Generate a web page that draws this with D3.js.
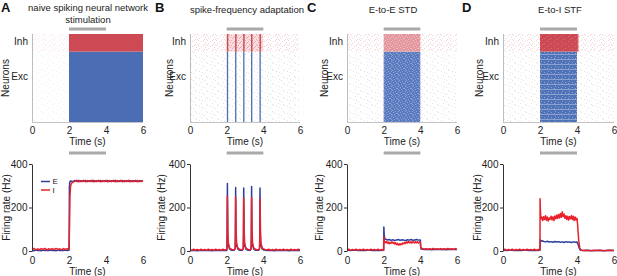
<!DOCTYPE html>
<html>
<head>
<meta charset="utf-8">
<script src="https://cdn.jsdelivr.net/npm/d3@7"></script>
<style>
    body { margin: 0; background: #fff; }
    svg { font-family: "Liberation Sans", Arial, sans-serif; }
    .tickText { font-size: 10px; fill: #222; }
    .axisLabel { font-size: 10px; fill: #222; }
    .title { font-size: 9.5px; fill: #222; }
    .letter { font-size: 13px; font-weight: bold; fill: #111; }
    .legend { font-size: 8px; fill: #222; }
</style>
</head>
<body>
<svg id="fig" width="617" height="276"></svg>
<script>
// ---------- data ----------
const panelNames = ["A", "B", "C", "D"];
const panelTitles = [["naive spiking neural network", "stimulation"], ["spike-frequency adaptation"], ["E-to-E STD"], ["E-to-I STF"]];
const timeTicks = [0, 2, 4, 6];
const rateTicks = [0, 200, 400];
const stimWindow = [2, 4];
const populations = [{name: "Exc", from: 0, to: 800}, {name: "Inh", from: 800, to: 1000}];
// how visible the spontaneous background spiking is in each raster
const spontLevel = [0.45, 0.9, 0.85, 0.85];

// evoked raster activity: time windows where a population fires densely
const rasterEvents = [
    {panel: "A", pop: "Exc", t0: 2.0, t1: 6.0, density: 1},
    {panel: "A", pop: "Inh", t0: 2.0, t1: 6.0, density: 1},
    {panel: "B", pop: "Inh", t0: 2.0, t1: 4.0, density: 0.2},
    {panel: "B", pop: "Exc", t0: 2.01, t1: 2.08, density: 1},
    {panel: "B", pop: "Exc", t0: 2.46, t1: 2.53, density: 1},
    {panel: "B", pop: "Exc", t0: 2.90, t1: 2.97, density: 1},
    {panel: "B", pop: "Exc", t0: 3.33, t1: 3.40, density: 1},
    {panel: "B", pop: "Exc", t0: 3.79, t1: 3.86, density: 1},
    {panel: "B", pop: "Inh", t0: 2.01, t1: 2.09, density: 1},
    {panel: "B", pop: "Inh", t0: 2.46, t1: 2.54, density: 1},
    {panel: "B", pop: "Inh", t0: 2.90, t1: 2.98, density: 1},
    {panel: "B", pop: "Inh", t0: 3.33, t1: 3.41, density: 1},
    {panel: "B", pop: "Inh", t0: 3.79, t1: 3.87, density: 1},
    {panel: "C", pop: "Exc", t0: 2.0, t1: 4.0, density: 0.7},
    {panel: "C", pop: "Inh", t0: 2.0, t1: 4.0, density: 0.45},
    {panel: "D", pop: "Exc", t0: 2.0, t1: 4.0, density: 0.8, hetero: true},
    {panel: "D", pop: "Inh", t0: 2.0, t1: 4.05, density: 0.95},
    {panel: "D", pop: "Inh", t0: 4.05, t1: 4.1, density: 0.45}
];

// population firing rates, [time (s), rate (Hz)]
const rateE_A = [[0,3],[0.1,1],[0.2,4],[0.3,2],[0.4,3],[0.5,1],[0.6,4],[0.7,2],[0.8,3],[0.9,2],[1.0,4],[1.1,2],[1.2,3],[1.3,1],[1.4,4],[1.5,2],[1.6,3],[1.7,2],[1.8,4],[1.9,2],[2.0,3],[2.01,40],[2.02,290],[2.04,316],[2.08,322],[2.2,319],[2.3,324],[2.4,320],[2.5,325],[2.6,319],[2.7,323],[2.8,320],[2.9,324],[3.0,319],[3.1,323],[3.2,320],[3.3,325],[3.4,319],[3.5,323],[3.6,320],[3.7,324],[3.8,319],[3.9,323],[4.0,320],[4.1,324],[4.2,319],[4.3,323],[4.4,320],[4.5,325],[4.6,319],[4.7,323],[4.8,320],[4.9,324],[5.0,319],[5.1,323],[5.2,320],[5.3,324],[5.4,319],[5.5,323],[5.6,320],[5.7,324],[5.8,319],[5.9,323],[6.0,321]];
const rateI_A = [[0,8],[0.1,12],[0.2,5],[0.3,10],[0.4,6],[0.5,11],[0.6,7],[0.7,12],[0.8,5],[0.9,10],[1.0,7],[1.1,11],[1.2,6],[1.3,12],[1.4,7],[1.5,10],[1.6,5],[1.7,11],[1.8,7],[1.9,10],[2.0,8],[2.03,120],[2.05,250],[2.08,295],[2.12,310],[2.2,316],[2.3,320],[2.4,325],[2.5,318],[2.6,324],[2.7,319],[2.8,325],[2.9,318],[3.0,324],[3.1,319],[3.2,325],[3.3,318],[3.4,324],[3.5,319],[3.6,325],[3.7,318],[3.8,324],[3.9,319],[4.0,325],[4.1,318],[4.2,324],[4.3,319],[4.4,325],[4.5,318],[4.6,324],[4.7,319],[4.8,325],[4.9,318],[5.0,324],[5.1,319],[5.2,325],[5.3,318],[5.4,324],[5.5,319],[5.6,325],[5.7,318],[5.8,324],[5.9,319],[6.0,322]];

const rateE_B = [[0,2],[0.2,3],[0.4,1],[0.6,3],[0.8,2],[1.0,3],[1.2,1],[1.4,3],[1.6,2],[1.8,3],[2.0,2],[2.02,15],[2.04,310],[2.055,70],[2.08,22],[2.11,28],[2.15,10],[2.25,4],[2.40,3],[2.47,15],[2.49,292],[2.505,70],[2.53,22],[2.56,27],[2.6,10],[2.7,4],[2.85,3],[2.91,15],[2.93,290],[2.945,70],[2.97,22],[3.0,27],[3.04,10],[3.14,4],[3.28,3],[3.34,15],[3.36,297],[3.375,70],[3.40,22],[3.43,27],[3.47,10],[3.57,4],[3.74,3],[3.80,15],[3.82,290],[3.835,70],[3.86,22],[3.89,27],[3.93,10],[4.03,4],[4.2,2],[4.4,3],[4.6,1],[4.8,3],[5.0,2],[5.2,3],[5.4,1],[5.6,3],[5.8,2],[6.0,2]];
const rateI_B = [[0,6],[0.1,3],[0.2,8],[0.3,4],[0.4,7],[0.5,3],[0.6,8],[0.7,4],[0.8,7],[0.9,3],[1.0,8],[1.1,4],[1.2,7],[1.3,3],[1.4,8],[1.5,4],[1.6,7],[1.7,3],[1.8,8],[1.9,4],[2.01,8],[2.03,60],[2.04,252],[2.05,210],[2.065,90],[2.09,40],[2.13,20],[2.2,10],[2.3,7],[2.4,6],[2.46,8],[2.48,60],[2.49,248],[2.50,205],[2.515,90],[2.54,40],[2.58,20],[2.65,10],[2.75,7],[2.85,6],[2.90,8],[2.92,60],[2.93,245],[2.94,205],[2.955,90],[2.98,40],[3.02,20],[3.09,10],[3.19,7],[3.28,6],[3.33,8],[3.35,60],[3.36,246],[3.37,205],[3.385,90],[3.41,40],[3.45,20],[3.52,10],[3.62,7],[3.74,6],[3.79,8],[3.81,60],[3.82,240],[3.83,200],[3.845,90],[3.87,40],[3.91,20],[3.98,10],[4.08,7],[4.2,5],[4.3,8],[4.4,3],[4.5,7],[4.6,4],[4.7,8],[4.8,3],[4.9,7],[5.0,4],[5.1,8],[5.2,3],[5.3,7],[5.4,4],[5.5,8],[5.6,3],[5.7,7],[5.8,4],[5.9,8],[6.0,5]];

const rateE_C = [[0,3],[0.2,2],[0.4,4],[0.6,2],[0.8,3],[1.0,2],[1.2,4],[1.4,2],[1.6,3],[1.8,2],[2.0,3],[2.01,110],[2.03,72],[2.06,58],[2.1,54],[2.2,51],[2.3,53],[2.4,49],[2.5,52],[2.6,48],[2.7,51],[2.8,53],[2.9,49],[3.0,52],[3.1,50],[3.2,48],[3.3,52],[3.4,50],[3.5,53],[3.6,49],[3.7,51],[3.8,53],[3.9,50],[4.0,51],[4.02,20],[4.05,9],[4.2,7],[4.4,8],[4.6,6],[4.8,8],[5.0,7],[5.2,8],[5.4,6],[5.6,8],[5.8,7],[6.0,7]];
const rateI_C = [[0,5],[0.1,8],[0.2,3],[0.3,7],[0.4,4],[0.5,8],[0.6,3],[0.7,7],[0.8,5],[0.9,8],[1.0,4],[1.1,7],[1.2,3],[1.3,8],[1.4,5],[1.5,7],[1.6,4],[1.7,8],[1.8,3],[1.9,7],[2.0,5],[2.01,65],[2.03,48],[2.06,42],[2.1,38],[2.15,44],[2.2,36],[2.25,41],[2.3,33],[2.35,40],[2.4,35],[2.45,42],[2.5,36],[2.55,40],[2.6,32],[2.65,38],[2.7,30],[2.75,35],[2.8,27],[2.85,33],[2.9,28],[2.95,34],[3.0,30],[3.05,37],[3.1,33],[3.15,40],[3.2,35],[3.25,42],[3.3,37],[3.35,43],[3.4,38],[3.45,42],[3.5,36],[3.55,43],[3.6,38],[3.65,42],[3.7,37],[3.75,43],[3.8,38],[3.85,42],[3.9,37],[3.95,41],[4.0,40],[4.02,18],[4.05,10],[4.1,12],[4.2,8],[4.3,11],[4.4,7],[4.5,10],[4.6,8],[4.7,12],[4.8,7],[4.9,10],[5.0,8],[5.1,11],[5.2,7],[5.3,10],[5.4,8],[5.5,12],[5.6,7],[5.7,10],[5.8,8],[5.9,11],[6.0,8]];

const rateE_D = [[0,3],[0.2,2],[0.4,4],[0.6,2],[0.8,3],[1.0,2],[1.2,4],[1.4,2],[1.6,3],[1.8,2],[2.0,3],[2.01,52],[2.04,48],[2.08,45],[2.12,47],[2.2,44],[2.3,42],[2.4,45],[2.5,41],[2.6,43],[2.7,40],[2.8,44],[2.9,41],[3.0,43],[3.1,40],[3.2,42],[3.3,39],[3.4,43],[3.5,40],[3.6,42],[3.7,39],[3.8,42],[3.9,40],[4.0,41],[4.05,33],[4.1,18],[4.15,7],[4.2,3],[4.4,2],[4.6,3],[4.8,1],[5.0,2],[5.2,3],[5.4,1],[5.6,2],[5.8,3],[6.0,2]];
const rateI_D = [[0,5],[0.1,8],[0.2,3],[0.3,7],[0.4,4],[0.5,8],[0.6,3],[0.7,7],[0.8,5],[0.9,8],[1.0,4],[1.1,7],[1.2,3],[1.3,8],[1.4,5],[1.5,7],[1.6,4],[1.7,8],[1.8,3],[1.9,7],[2.0,5],[2.005,240],[2.02,190],[2.04,160],[2.07,148],[2.1,155],[2.15,140],[2.2,158],[2.25,145],[2.3,162],[2.35,141],[2.4,156],[2.45,138],[2.5,152],[2.55,146],[2.6,160],[2.65,143],[2.7,157],[2.75,140],[2.8,161],[2.85,148],[2.9,165],[2.95,150],[3.0,168],[3.05,152],[3.1,172],[3.15,155],[3.2,180],[3.25,158],[3.3,170],[3.35,150],[3.4,162],[3.45,145],[3.5,160],[3.55,142],[3.6,158],[3.65,148],[3.7,163],[3.75,145],[3.8,160],[3.85,140],[3.9,156],[3.95,143],[4.0,150],[4.03,125],[4.06,85],[4.1,42],[4.15,15],[4.2,5],[4.3,2],[4.5,3],[4.7,1],[4.9,3],[5.1,2],[5.3,3],[5.5,1],[5.7,3],[5.9,2],[6.0,2]];

const ratesE = [rateE_A, rateE_B, rateE_C, rateE_D];
const ratesI = [rateI_A, rateI_B, rateI_C, rateI_D];

// ---------- layout ----------
const colE = "#2c3f9c", colI = "#e8212b";
const rastBlue = "#4a6db4", rastRed = "#cd4a54";
const panelX = [[32, 143], [190, 300], [347, 457], [503, 614]];
const letterX = [1, 155, 307, 462];
const titleX = [88, 247, 393, 560];
const neuronsLabelX = [5, 169, 324, 479];
const rateLabelX = [6, 161, 319, 477];
const rasterTop = 34, rasterBottom = 122;
const rateTop = 164, rateBottom = 251;

const svg = d3.select("#fig");
const defs = svg.append("defs");

// textures for spike rasters
function pattern(id, w, h, base, dots, dotColor, dotOpacity){
    let p = defs.append("pattern")
        .attr("id", id)
        .attr("patternUnits", "userSpaceOnUse")
        .attr("width", w)
        .attr("height", h);
    if (base) p.append("rect").attr("width", w).attr("height", h).attr("fill", base);
    dots.forEach(d => p.append("rect")
        .attr("x", d[0]).attr("y", d[1])
        .attr("width", d[2] || 1).attr("height", d[3] || 1)
        .attr("fill", dotColor)
        .attr("opacity", dotOpacity));
}
pattern("spontExc", 11, 7, null, [[1,1],[6,3],[9,0],[3,5],[8,6],[4,2]], "#b8b8b8", 0.45);
pattern("spontInh", 9, 5, null, [[0,0],[3,1],[7,2],[5,0],[1,3],[6,4],[8,4]], "#e0949c", 0.45);
pattern("faintInh", 7, 5, "#f7dfe1", [[0,0],[3,1],[6,2],[5,0],[1,3],[4,4],[2,2]], "#df8089", 0.6);
pattern("speckExc", 7, 5, "#5a7bbf", [[0,0],[3,1],[1,2],[5,3],[2,4],[6,1],[4,3],[6,4]], "#ffffff", 0.3);
pattern("speckInh", 7, 5, "#e4979e", [[0,0],[3,1],[1,2],[5,3],[2,4],[6,1],[4,3]], "#ffffff", 0.35);
pattern("denseInh", 7, 5, rastRed, [[1,1],[5,3],[3,4]], "#ffffff", 0.2);
pattern("stripeExc", 7, 5, "#5073b7", [[0,4,7,1],[2,1],[5,2],[1,3]], "#b3c3e4", 0.6);

function blockFill(ev){
    if (ev.pop === "Exc"){
        if (ev.hetero) return "url(#stripeExc)";
        if (ev.density >= 0.9) return rastBlue;
        return "url(#speckExc)";
    }
    if (ev.density >= 0.99) return rastRed;
    if (ev.density >= 0.9) return "url(#denseInh)";
    if (ev.density >= 0.4) return "url(#speckInh)";
    return "url(#faintInh)";
}

const yNeuron = d3.scaleLinear().domain([0, 1000]).range([rasterBottom, rasterTop]);
const yRate = d3.scaleLinear().domain([0, 400]).range([rateBottom, rateTop]);
const fmt = d3.format("d");

panelNames.forEach(function(name, i){
    let x = d3.scaleLinear().domain([0, 6]).range(panelX[i]);
    let g = svg.append("g");

    // panel letter + title
    g.append("text").attr("class", "letter").attr("x", letterX[i]).attr("y", 12).text(name);
    panelTitles[i].forEach(function(t, k){
        g.append("text")
            .attr("class", "title")
            .attr("x", titleX[i])
            .attr("y", panelTitles[i].length > 1 ? 11 + k * 12 : 13)
            .attr("text-anchor", "middle")
            .text(t);
    });

    // ----- raster -----
    g.selectAll(".spont")
        .data(populations)
        .join("rect")
        .attr("x", x(0))
        .attr("y", d => yNeuron(d.to))
        .attr("width", x(6) - x(0))
        .attr("height", d => yNeuron(d.from) - yNeuron(d.to))
        .attr("opacity", spontLevel[i])
        .attr("fill", d => d.name === "Exc" ? "url(#spontExc)" : "url(#spontInh)");

    let popOf = p => populations.find(d => d.name === p);
    g.selectAll(".evoked")
        .data(rasterEvents.filter(d => d.panel === name))
        .join("rect")
        .attr("x", d => x(d.t0))
        .attr("y", d => yNeuron(popOf(d.pop).to))
        .attr("width", d => x(d.t1) - x(d.t0))
        .attr("height", d => yNeuron(popOf(d.pop).from) - yNeuron(popOf(d.pop).to))
        .attr("fill", blockFill);

    g.append("line")
        .attr("x1", x(0) + 0.5).attr("x2", x(0) + 0.5)
        .attr("y1", rasterTop).attr("y2", rasterBottom + 0.5)
        .attr("stroke", "#bdbdbd");
    g.append("line")
        .attr("x1", x(0)).attr("x2", x(6))
        .attr("y1", rasterBottom + 0.5).attr("y2", rasterBottom + 0.5)
        .attr("stroke", "#c4c4c4");

    g.selectAll(".popLabel")
        .data(populations)
        .join("text")
        .attr("class", "axisLabel")
        .attr("x", x(0) - 4)
        .attr("y", d => d.name === "Inh" ? yNeuron(910) : yNeuron(520))
        .attr("dy", "0.35em")
        .attr("text-anchor", "end")
        .text(d => d.name);

    g.append("text")
        .attr("class", "axisLabel")
        .attr("transform", `translate(${neuronsLabelX[i] + 3.5}, ${(rasterTop + rasterBottom) / 2}) rotate(-90)`)
        .attr("text-anchor", "middle")
        .text("Neurons");

    let xAxisTop = g.append("g")
        .attr("transform", `translate(0, ${rasterBottom + 2})`)
        .call(d3.axisBottom(x).tickValues(timeTicks).tickFormat(fmt).tickSize(0).tickPadding(3));
    xAxisTop.select(".domain").remove();
    xAxisTop.selectAll("text").attr("class", "tickText").attr("font-family", null).attr("font-size", null);
    g.append("text")
        .attr("class", "axisLabel")
        .attr("x", x(3)).attr("y", 145)
        .attr("text-anchor", "middle")
        .text("Time (s)");

    // stimulation bars
    [27.5, 151.5].forEach(yy => g.append("rect")
        .attr("x", x(stimWindow[0])).attr("y", yy)
        .attr("width", x(stimWindow[1]) - x(stimWindow[0]))
        .attr("height", 3)
        .attr("fill", "#a9a9a9"));

    // ----- firing rates -----
    let line = d3.line().x(d => x(d[0])).y(d => yRate(d[1]));
    g.append("path").datum(ratesE[i])
        .attr("d", line).attr("fill", "none")
        .attr("stroke", colE).attr("stroke-width", 1.5).attr("stroke-linejoin", "round");
    g.append("path").datum(ratesI[i])
        .attr("d", line).attr("fill", "none")
        .attr("stroke", colI).attr("stroke-width", 1.5).attr("stroke-linejoin", "round");

    let yAxis = g.append("g")
        .attr("transform", `translate(${x(0)}, 0)`)
        .call(d3.axisLeft(yRate).tickValues(rateTicks).tickSize(3).tickSizeOuter(0).tickPadding(1.5));
    yAxis.select(".domain").attr("stroke", "#333");
    yAxis.selectAll("line").attr("stroke", "#333");
    yAxis.selectAll("text").attr("class", "tickText").attr("font-family", null).attr("font-size", null);

    let xAxisBot = g.append("g")
        .attr("transform", `translate(0, ${rateBottom + 3})`)
        .call(d3.axisBottom(x).tickValues(timeTicks).tickFormat(fmt).tickSize(0).tickPadding(3));
    xAxisBot.select(".domain").remove();
    xAxisBot.selectAll("text").attr("class", "tickText").attr("font-family", null).attr("font-size", null);
    g.append("text")
        .attr("class", "axisLabel")
        .attr("x", x(3)).attr("y", 275)
        .attr("text-anchor", "middle")
        .text("Time (s)");
    g.append("text")
        .attr("class", "axisLabel")
        .attr("transform", `translate(${rateLabelX[i] + 3.5}, ${(rateTop + rateBottom) / 2}) rotate(-90)`)
        .attr("text-anchor", "middle")
        .text("Firing rate (Hz)");

    // legend only on first panel
    if (i === 0){
        [["E", colE, 181.5], ["I", colI, 190]].forEach(function(l){
            g.append("line")
                .attr("x1", 41).attr("x2", 50)
                .attr("y1", l[2]).attr("y2", l[2])
                .attr("stroke", l[1]).attr("stroke-width", 1.5);
            g.append("text")
                .attr("class", "legend")
                .attr("x", 52.5).attr("y", l[2])
                .attr("dy", "0.35em")
                .text(l[0]);
        });
    }
});
</script>
</body>
</html>
